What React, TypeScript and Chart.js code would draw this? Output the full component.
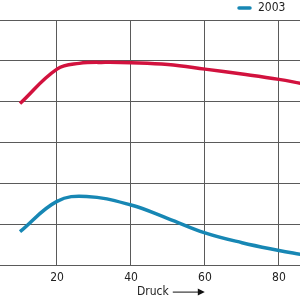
import React, { useEffect, useRef } from "react";
import { Chart, registerables } from "chart.js";

Chart.register(...registerables);

// Data
const seriesLabels = ["2002", "2003"];
const redX = [10, 20, 26, 33, 40, 50, 60, 70, 80, 86];
const redY = [39.6, 48.0, 49.4, 49.65, 49.55, 49.1, 48.0, 46.8, 45.5, 44.5];
const blueX = [10, 20, 28, 40, 50, 60, 70, 80, 86];
const blueY = [8.3, 15.7, 16.9, 14.8, 11.5, 8.0, 5.6, 3.7, 2.7];
const xTickValues = [20, 40, 60, 80];
const xMin = 0;
const xMax = 85.68;
const yMin = 0;
const yMax = 60;
const yStep = 10;
const axisTitle = "Druck";

const RED = "#d2123e";
const BLUE = "#1787b4";
const GRID = "#5a5a5a";
const FONT = "'Liberation Sans Narrow', 'DejaVu Sans Condensed', 'Liberation Sans', sans-serif";

const overlay = {
  id: "overlay",
  afterDraw(chart: any) {
    const ctx = chart.ctx as CanvasRenderingContext2D;
    const w = chart.width;
    const area = chart.chartArea;
    ctx.save();
    // legend (only 2003 visible)
    const ds = chart.data.datasets[1];
    ctx.strokeStyle = ds.borderColor;
    ctx.lineWidth = 3.5;
    ctx.lineCap = "round";
    ctx.beginPath();
    ctx.moveTo(w - 61, 8);
    ctx.lineTo(w - 50, 8);
    ctx.stroke();
    ctx.fillStyle = "#222";
    ctx.font = `12px ${FONT}`;
    ctx.textBaseline = "middle";
    ctx.textAlign = "left";
    ctx.fillText(ds.label, w - 42, 8);
    // axis title with arrow
    const tx = w - 163;
    const ty = area.bottom + 26;
    ctx.fillText(axisTitle, tx, ty);
    const tw = ctx.measureText(axisTitle).width;
    const ax0 = tx + tw + 4;
    const ax1 = ax0 + 32;
    ctx.strokeStyle = "#111";
    ctx.lineWidth = 1;
    ctx.lineCap = "butt";
    ctx.beginPath();
    ctx.moveTo(ax0, ty + 0.5);
    ctx.lineTo(ax1 - 6, ty + 0.5);
    ctx.stroke();
    ctx.fillStyle = "#111";
    ctx.beginPath();
    ctx.moveTo(ax1, ty + 0.5);
    ctx.lineTo(ax1 - 7, ty - 3);
    ctx.lineTo(ax1 - 7, ty + 4);
    ctx.closePath();
    ctx.fill();
    ctx.restore();
  },
};

export default function App() {
  const ref = useRef<HTMLCanvasElement>(null);
  useEffect(() => {
    if (!ref.current) return;
    const chart = new Chart(ref.current, {
      type: "line",
      data: {
        datasets: [
          {
            label: seriesLabels[0],
            data: redX.map((x, i) => ({ x, y: redY[i] })),
            borderColor: RED,
            backgroundColor: RED,
            borderWidth: 3.5,
            pointRadius: 0,
            tension: 0.4,
          },
          {
            label: seriesLabels[1],
            data: blueX.map((x, i) => ({ x, y: blueY[i] })),
            borderColor: BLUE,
            backgroundColor: BLUE,
            borderWidth: 3.5,
            pointRadius: 0,
            tension: 0.4,
          },
        ],
      },
      options: {
        animation: false,
        responsive: false,
        devicePixelRatio: 1,
        layout: { padding: { top: 20, bottom: 10, left: 0, right: 0 } },
        plugins: { legend: { display: false }, tooltip: { enabled: false } },
        scales: {
          x: {
            type: "linear",
            min: xMin,
            max: xMax,
            afterBuildTicks: (scale: any) => {
              scale.ticks = xTickValues.map((v) => ({ value: v }));
            },
            grid: { color: GRID, lineWidth: 1, drawTicks: false },
            border: { display: true, color: GRID, width: 1 },
            ticks: { padding: 5, color: "#222", font: { size: 12, family: FONT } },
          },
          y: {
            type: "linear",
            min: yMin,
            max: yMax,
            grid: { color: GRID, lineWidth: 1, drawTicks: false },
            border: { display: false },
            ticks: { display: false, stepSize: yStep },
          },
        },
      },
      plugins: [overlay],
    });
    return () => chart.destroy();
  }, []);
  return (
    <div style={{ position: "fixed", left: 0, top: 0, width: 300, height: 300, overflow: "hidden", background: "#fff" }}>
      <canvas
        ref={ref}
        width={317}
        height={300}
        style={{ position: "absolute", left: -17, top: 0, width: 317, height: 300 }}
      />
    </div>
  );
}
